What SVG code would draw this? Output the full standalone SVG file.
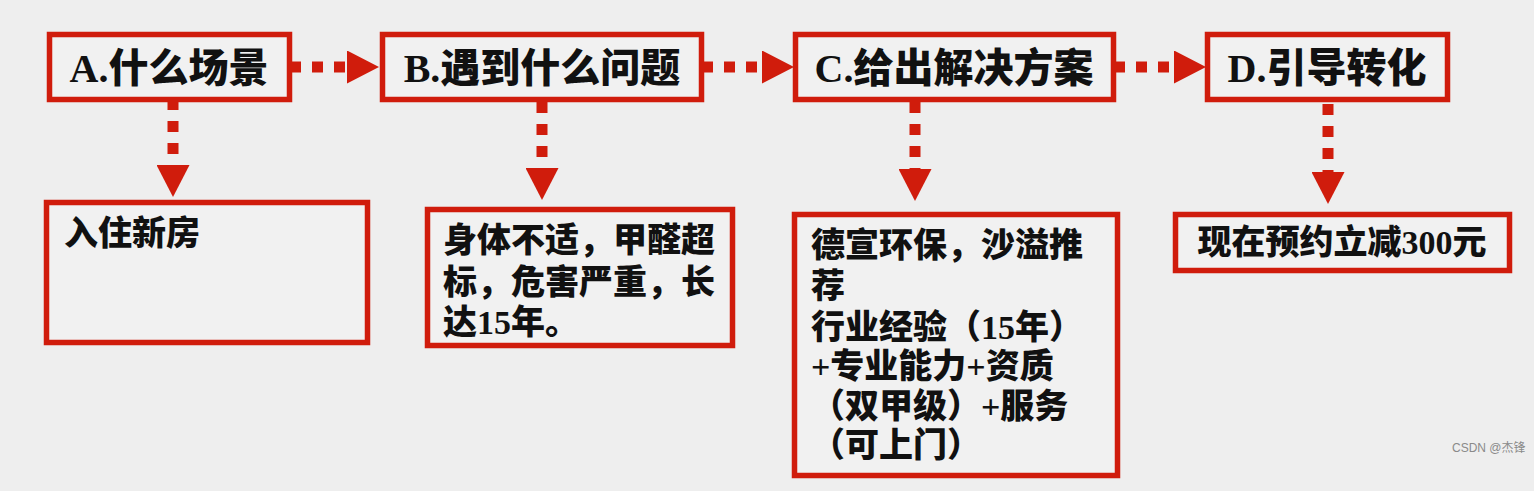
<svg xmlns="http://www.w3.org/2000/svg" width="1534" height="491" viewBox="0 0 1534 491">
<style>
.box{fill:#f1f1f1;stroke:#d01c0c;stroke-width:5.5}
.title{font-family:"Liberation Serif","Noto Sans CJK SC",serif;font-weight:900;font-size:40px;fill:#111;text-anchor:middle}
.body{font-family:"Liberation Serif","Noto Sans CJK SC",serif;font-weight:900;font-size:34px;fill:#111}
.dash{fill:none;stroke:#d01c0c;stroke-width:11;stroke-dasharray:11 11}
.wm{font-family:"Liberation Sans","Noto Sans CJK SC",sans-serif;font-size:12px;fill:#8a8a8a}
</style>
<defs>
<marker id="tri" markerUnits="userSpaceOnUse" viewBox="0 0 32 33" markerWidth="32" markerHeight="33" refX="0" refY="16.5" orient="auto">
<path d="M0,0 L32,16.5 L0,33 z" fill="#d01c0c"/>
</marker>
</defs>
<rect width="1534" height="491" fill="#eeeeee"/>
<g id="connectors">
<path class="dash" d="M290,67 H347" marker-end="url(#tri)"/>
<path class="dash" d="M702,67 H762" marker-end="url(#tri)"/>
<path class="dash" d="M1114,67 H1174" marker-end="url(#tri)"/>
<path class="dash" d="M173,99 V165" marker-end="url(#tri)"/>
<path class="dash" d="M542,102 V168" marker-end="url(#tri)"/>
<path class="dash" d="M915,102 V169" marker-end="url(#tri)"/>
<path class="dash" d="M1328,104 V172" marker-end="url(#tri)"/>
</g>
<g id="nodeA">
<rect class="box" x="49.5" y="34.5" width="240" height="65"/>
<text class="title" x="169" y="82">A.什么场景</text>
</g>
<g id="nodeB">
<rect class="box" x="382.5" y="34.5" width="319" height="65"/>
<text class="title" x="542" y="82">B.遇到什么问题</text>
</g>
<g id="nodeC">
<rect class="box" x="795.5" y="34.5" width="318" height="65"/>
<text class="title" x="954" y="82">C.给出解决方案</text>
</g>
<g id="nodeD">
<rect class="box" x="1207.5" y="34.5" width="240" height="65"/>
<text class="title" x="1327" y="82">D.引导转化</text>
</g>
<g id="nodeA2">
<rect class="box" x="46.5" y="202.5" width="321" height="140"/>
<text class="body" x="64" y="245">入住新房</text>
</g>
<g id="nodeB2">
<rect class="box" x="427.5" y="209.5" width="305" height="136"/>
<text class="body" x="443" y="252">身体不适，甲醛超</text>
<text class="body" x="443" y="294">标，危害严重，长</text>
<text class="body" x="443" y="334">达15年。</text>
</g>
<g id="nodeC2">
<rect class="box" x="794.5" y="214.5" width="323" height="261"/>
<text class="body" x="811" y="257">德宣环保，沙溢推</text>
<text class="body" x="811" y="298">荐</text>
<text class="body" x="811" y="339">行业经验（15年）</text>
<text class="body" x="811" y="378">+专业能力+资质</text>
<text class="body" x="811" y="418">（双甲级）+服务</text>
<text class="body" x="811" y="457">（可上门）</text>
</g>
<g id="nodeD2">
<rect class="box" x="1175.5" y="214.5" width="334" height="56"/>
<text class="body" x="1342" y="254" text-anchor="middle">现在预约立减300元</text>
</g>
<text class="wm" x="1452" y="452">CSDN @杰锋</text>
</svg>
